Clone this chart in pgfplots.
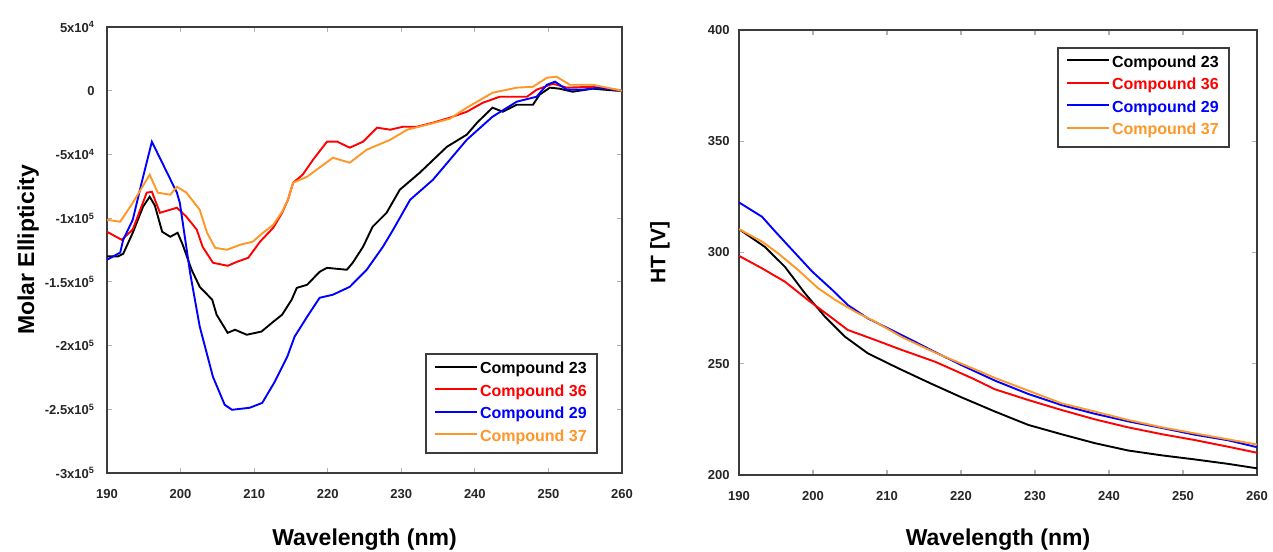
\documentclass[border=0pt]{standalone}
\usepackage{pgfplots}
\pgfplotsset{compat=1.18}
\usepackage{fontspec}
\setmainfont{Liberation Sans}
\definecolor{c23}{RGB}{0,0,0}
\definecolor{c36}{RGB}{255,0,0}
\definecolor{c29}{RGB}{0,0,255}
\definecolor{c37}{RGB}{255,150,40}
\definecolor{axgray}{RGB}{60,60,60}
\pgfplotsset{
  myaxis/.style={
    scale only axis,
    axis line style={draw=axgray, line width=2.5bp},
    tick style={draw=black!30, line width=1.2bp},
    major tick length=5bp,
    tick align=inside,
    xmin=190, xmax=260,
    xtick={190,200,...,260},
    ticklabel style={font=\fontsize{13bp}{14bp}\selectfont\bfseries, text=black!85},
    /pgf/number format/assume math mode=true,
    xticklabel style={yshift=-13bp},
    label style={font=\fontsize{23bp}{26bp}\selectfont\bfseries},
    legend cell align=left,
    legend style={draw=axgray, line width=2bp, anchor=north west,
      font=\fontsize{16bp}{18bp}\selectfont\bfseries,
      inner xsep=8bp, inner ysep=4.5bp, row sep=0bp,
      nodes={inner sep=2bp, text height=13bp, text depth=5.5bp}},
    legend image code/.code={\draw[#1, line width=2bp] (0bp,3.2bp) -- (42bp,3.2bp);},
    every axis plot/.append style={line width=1.9bp},
  }
}
\begin{document}
\begin{tikzpicture}
\useasboundingbox (0bp,0bp) rectangle (1273bp,552bp);
% ---------------- left panel ----------------
\begin{axis}[myaxis,
  at={(107bp,79bp)}, anchor=south west,
  width=515bp, height=446bp,
  ymin=-300000, ymax=50000,
  ytick={-300000,-250000,-200000,-150000,-100000,-50000,0,50000},
  yticklabels={-3x10\textsuperscript{5},-2.5x10\textsuperscript{5},-2x10\textsuperscript{5},-1.5x10\textsuperscript{5},-1x10\textsuperscript{5},-5x10\textsuperscript{4},0,5x10\textsuperscript{4}},
  scaled y ticks=false,
  yticklabel style={xshift=-9bp},
  xlabel={Wavelength (nm)},
  ylabel={Molar Ellipticity},
  xlabel style={at={(axis description cs:0.5,-0.15)}, anchor=center},
  ylabel style={at={(axis description cs:-0.153,0.5)}, anchor=center},
  legend style={at={(0.6175,0.269)}},
]
\addplot[c23] coordinates {
(190,-130000) (191.5,-130000) (192.2,-128000) (193.5,-111500) (194.9,-91000) (195.8,-83200) (196.5,-90000) (197.5,-110700) (198.6,-114600) (199.6,-111500) (200.3,-121000) (201.5,-140500) (202.6,-153900) (204.3,-164000) (204.9,-175800) (206.4,-190000) (207.4,-187600) (209,-191500) (211,-189000) (212.6,-181300) (213.8,-175800) (215.1,-164000) (215.8,-154700) (217.2,-152300) (218.9,-142100) (219.9,-139000) (222.6,-140500) (223.4,-135000) (224.8,-122500) (226.1,-106800) (228,-95800) (229.8,-77700) (232.5,-64400) (236.2,-44000) (238.9,-34500) (240.3,-25100) (242.4,-13300) (243.8,-16500) (245.7,-11000) (247.9,-11000) (248.8,-3100) (250.2,2400) (251.5,1600) (253.3,-800) (256,1600) (259.3,0) (260,0)
};
\addlegendentry{\color{c23}Compound 23}
\addplot[c36] coordinates {
(190,-110700) (192,-117000) (193.5,-109000) (195.4,-80000) (196.1,-79300) (197.2,-95800) (198.6,-93400) (199.5,-91800) (200.8,-98900) (202.2,-109000) (203,-122500) (204.4,-135000) (206.4,-137400) (207.7,-134200) (209.2,-131100) (210.8,-118500) (212.6,-107500) (213.8,-95800) (214.6,-85600) (215.3,-72200) (216.6,-65900) (218,-54200) (219.9,-40000) (221.3,-40000) (223,-44700) (224.8,-40000) (226.7,-29000) (228.5,-30600) (230.2,-28300) (232.1,-28300) (234.3,-25100) (236.6,-21200) (238.9,-16500) (241.1,-9400) (243.4,-4700) (247.1,-4700) (248.4,800) (250.6,5500) (252.5,2400) (256,3100) (260,0)
};
\addlegendentry{\color{c36}Compound 36}
\addplot[c29] coordinates {
(190,-132700) (191.8,-127000) (192.2,-117000) (193.5,-101300) (194.8,-70000) (196.1,-40000) (197.8,-60000) (199.5,-80000) (199.9,-88000) (201.3,-143000) (202.6,-185000) (204.4,-224500) (206,-246500) (207,-250400) (209.4,-248800) (211.1,-245000) (212.8,-228400) (214.5,-208800) (215.5,-193000) (217.2,-177400) (218.9,-162500) (220.7,-160100) (223,-153900) (225.3,-140500) (227.5,-122500) (228.9,-109000) (231.2,-85600) (234.3,-69900) (236.6,-54200) (238.9,-38500) (242.4,-20400) (245.7,-8600) (248.4,-4700) (249.8,4700) (250.9,7100) (252.5,800) (254.7,800) (257,2400) (260,0)
};
\addlegendentry{\color{c29}Compound 29}
\addplot[c37] coordinates {
(190,-101300) (191.8,-102800) (193.5,-88000) (195.8,-65900) (196.9,-80000) (198.6,-81600) (199.5,-75400) (200.8,-80000) (202.6,-93400) (203.6,-111500) (204.7,-123300) (206.3,-124800) (208.1,-120900) (209.8,-118500) (211.2,-111500) (212.6,-105200) (213.8,-95000) (214.6,-85600) (215.3,-72200) (217.2,-67500) (220.7,-52600) (223,-56500) (225.3,-46300) (228.5,-38500) (230.8,-30600) (233.5,-26700) (236.6,-22000) (238.9,-13300) (242.4,-1600) (245.7,2400) (247.9,3100) (249.8,10200) (251.1,11000) (252.9,4700) (256,4700) (260,0)
};
\addlegendentry{\color{c37}Compound 37}
\end{axis}
% ---------------- right panel ----------------
\begin{axis}[myaxis,
  at={(739bp,77bp)}, anchor=south west,
  width=518bp, height=445bp,
  ymin=200, ymax=400,
  ytick={200,250,300,350,400},
  yticklabel style={xshift=-6bp},
  xlabel={Wavelength (nm)},
  ylabel={HT [V]},
  xlabel style={at={(axis description cs:0.5,-0.146)}, anchor=center},
  ylabel style={at={(axis description cs:-0.1525,0.5)}, anchor=center, font=\fontsize{21bp}{24bp}\selectfont\bfseries},
  legend style={at={(0.614,0.962)}},
]
\addplot[c23] coordinates {
(190,310.5) (193.5,302.5) (196.2,293.6) (198.9,281.7) (201.6,271.2) (204.3,262.2) (207.4,254.7) (211.5,248) (216,241) (220,235) (224.6,228.5) (229.1,222.5) (233.6,218.3) (238.1,214.3) (242.6,211) (247.2,208.8) (251.6,207) (256.1,205) (260,203)
};
\addlegendentry{\color{c23}Compound 23}
\addplot[c36] coordinates {
(190,298.5) (193.1,292.9) (196.2,286.9) (199.3,278.7) (202,272) (204.7,265.2) (208.4,260.7) (212,256.2) (216.5,250.9) (218.8,247.5) (221.5,243.5) (224.6,238.5) (229.1,233.7) (233.6,229.2) (238.1,225) (242.6,221.4) (247.2,218.3) (251.6,215.7) (256.1,212.7) (260,210)
};
\addlegendentry{\color{c36}Compound 36}
\addplot[c29] coordinates {
(190,322.5) (193.1,316.1) (194.9,309.4) (197.2,301.1) (199.9,291.4) (202.6,283.2) (204.7,276.4) (207.4,270.4) (210.1,266) (213.3,260.7) (216.4,255.4) (220.5,248.7) (224.6,242.4) (229.1,236.4) (233.6,231.4) (238.1,227.5) (242.6,224.1) (247.2,221.1) (251.6,218.1) (256.1,215.6) (260,212.5)
};
\addlegendentry{\color{c29}Compound 29}
\addplot[c37] coordinates {
(190,310.5) (193.1,304.9) (195.3,299.6) (198,292.1) (200.7,283.9) (203,278.7) (205.7,273.4) (208.4,268.9) (212,262) (216.5,255) (221.5,248) (224.6,243.6) (229.1,237.9) (233.6,232.2) (238.1,228.5) (242.6,224.7) (247.2,221.4) (251.6,218.7) (256.1,216) (260,213.7)
};
\addlegendentry{\color{c37}Compound 37}
\end{axis}
\end{tikzpicture}
\end{document}
